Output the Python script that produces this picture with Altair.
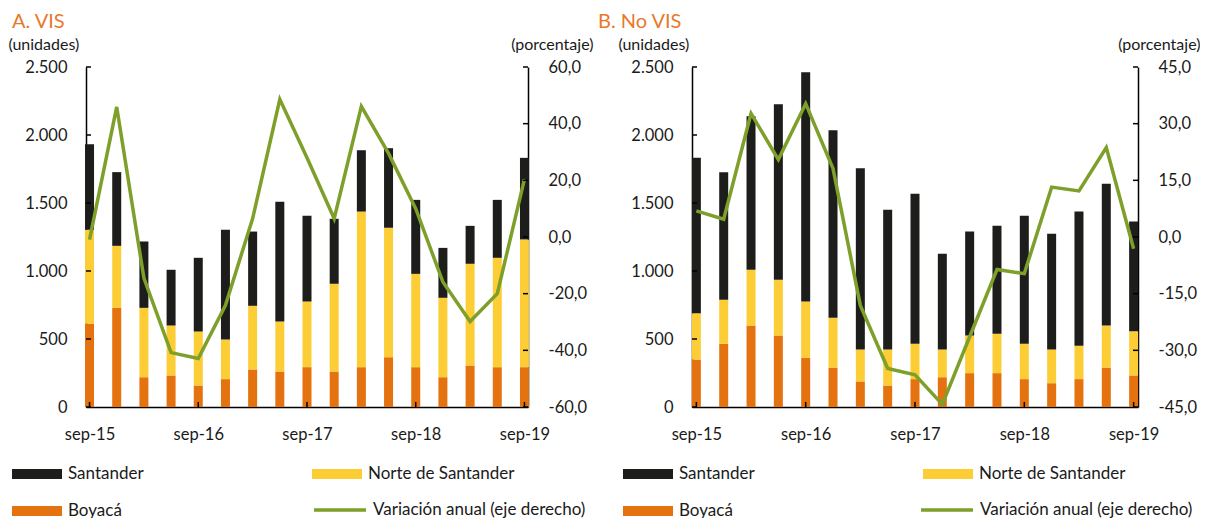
import altair as alt
import pandas as pd

quarters = ["sep-15", "dic-15", "mar-16", "jun-16", "sep-16", "dic-16", "mar-17", "jun-17",
            "sep-17", "dic-17", "mar-18", "jun-18", "sep-18", "dic-18", "mar-19", "jun-19", "sep-19"]
x_labels = ["sep-15", "sep-16", "sep-17", "sep-18", "sep-19"]

vis_boyaca = [612, 729, 219, 232, 158, 205, 276, 261, 293, 261, 293, 366, 293, 219, 305, 293, 293]
vis_norte = [691, 456, 510, 367, 397, 291, 468, 368, 483, 645, 1144, 952, 686, 584, 748, 804, 939]
vis_santander = [629, 542, 488, 410, 542, 807, 546, 880, 630, 478, 451, 585, 544, 367, 279, 426, 600]
vis_var = [-0.9, 45.9, -14.5, -40.8, -42.9, -24.1, 6.5, 48.6, 28.0, 6.5, 46.1, 29.5, 10.0, -15.9, -29.8, -20.0, 20.4]

novis_boyaca = [349, 465, 599, 526, 362, 290, 188, 158, 205, 219, 249, 249, 205, 175, 205, 290, 232]
novis_norte = [341, 323, 410, 409, 414, 366, 235, 265, 260, 204, 277, 289, 260, 248, 245, 309, 325]
novis_santander = [1142, 939, 1129, 1292, 1686, 1379, 1333, 1027, 1103, 704, 764, 794, 941, 851, 987, 1042, 807]
novis_var = [6.9, 4.7, 32.7, 20.5, 35.3, 18.1, -18.1, -34.8, -36.5, -44.3, -26.4, -8.6, -9.7, 13.2, 12.2, 23.7, -3.1]

left_ticks = [0, 500, 1000, 1500, 2000, 2500]
vis_right_ticks = [-60, -40, -20, 0, 20, 40, 60]
novis_right_ticks = [-45, -30, -15, 0, 15, 30, 45]

series = ["Santander", "Norte de Santander", "Boyacá"]
series_colors = ["#1D1D1B", "#FDCD36", "#E4720F"]
line_name = "Variación anual (eje derecho)"
line_color = "#7E9F2A"
title_color = "#E8792B"
FONT = "Lato"
TXT = "#1a1a1a"
H = 340
AX_FS = 16.5
AX_TITLE_FS = 16
LEG_FS = 17


def panel(title, boy, nor, san, var, rticks, width, pad, title_dx, ytitle_x, rtitle_x, leg_x, line_dx):
    rows = []
    for i, q in enumerate(quarters):
        rows.append({"q": q, "serie": "Boyacá", "v": boy[i], "o": 0})
        rows.append({"q": q, "serie": "Norte de Santander", "v": nor[i], "o": 1})
        rows.append({"q": q, "serie": "Santander", "v": san[i], "o": 2})
    bars_df = pd.DataFrame(rows)
    line_df = pd.DataFrame({"q": quarters, "var": var, "serie": [line_name] * len(quarters)})

    xscale = alt.Scale(type="point", domain=quarters, padding=pad)
    lscale = alt.Scale(domain=[0, 2500], nice=False, zero=False)
    rscale = alt.Scale(domain=[rticks[0], rticks[-1]], nice=False, zero=False)

    xaxis = alt.Axis(values=x_labels, ticks=False, labelPadding=19, domainColor="black",
                     domainWidth=1.5, labelFontSize=AX_FS, labelFont=FONT, labelColor=TXT,
                     title=None, grid=False, labelAngle=0)
    laxis = alt.Axis(values=left_ticks, ticks=False, labelPadding=19, domainColor="black",
                     domainWidth=1.5, labelFontSize=AX_FS, labelFont=FONT, labelColor=TXT,
                     labelExpr="replace(format(datum.value, ','), ',', '.')", grid=False,
                     title="(unidades)", titleAngle=0, titleAlign="left", titleBaseline="alphabetic",
                     titleX=ytitle_x, titleY=-18, titleFontSize=AX_TITLE_FS, titleFont=FONT,
                     titleFontWeight="normal", titleColor=TXT)
    raxis = alt.Axis(orient="right", values=rticks, ticks=False, labelPadding=20,
                     domainColor="black", domainWidth=1.5, labelFontSize=AX_FS, labelFont=FONT,
                     labelColor=TXT, grid=False,
                     labelExpr="(datum.value < 0 ? '-' : '') + replace(format(abs(datum.value), '.1f'), '.', ',')",
                     title="(porcentaje)", titleAngle=0, titleAlign="right", titleBaseline="alphabetic",
                     titleX=rtitle_x, titleY=-18, titleFontSize=AX_TITLE_FS, titleFont=FONT,
                     titleFontWeight="normal", titleColor=TXT)

    bars = alt.Chart(bars_df).mark_bar(size=9).encode(
        x=alt.X("q:N", scale=xscale, axis=xaxis, sort=quarters),
        y=alt.Y("v:Q", stack="zero", scale=lscale, axis=laxis),
        color=alt.Color("serie:N", scale=alt.Scale(domain=series, range=series_colors),
                        legend=alt.Legend(orient="none", legendX=leg_x, legendY=382, columns=2,
                                          direction="horizontal",
                                          columnPadding=168, rowPadding=4, title=None,
                                          symbolType="M-1,-0.2H1V0.2H-1Z", symbolSize=2500,
                                          symbolStrokeWidth=0, symbolOpacity=1,
                                          labelFontSize=LEG_FS, labelFont=FONT, labelColor=TXT,
                                          labelOffset=6, labelLimit=400)),
        order=alt.Order("o:Q"),
    )
    lt = alt.Chart(pd.DataFrame({"t": left_ticks})).mark_rule(color="black", strokeWidth=1.5).encode(
        y=alt.Y("t:Q", scale=lscale, axis=laxis), x=alt.value(0), x2=alt.value(5))
    xt = alt.Chart(pd.DataFrame({"q": x_labels})).mark_rule(color="black", strokeWidth=1.5).encode(
        x=alt.X("q:N", scale=xscale, axis=xaxis, sort=quarters), y=alt.value(H), y2=alt.value(H - 5))
    left = alt.layer(bars, lt, xt)

    line = alt.Chart(line_df).mark_line(strokeWidth=3.5).encode(
        x=alt.X("q:N", scale=xscale, axis=xaxis, sort=quarters),
        y=alt.Y("var:Q", scale=rscale, axis=raxis),
        stroke=alt.Stroke("serie:N", scale=alt.Scale(domain=[line_name], range=[line_color]),
                          legend=alt.Legend(orient="none", legendX=leg_x + line_dx, legendY=415,
                                            title=None, symbolType="stroke", symbolSize=2704,
                                            symbolStrokeWidth=3.5, labelFontSize=LEG_FS,
                                            labelFont=FONT, labelColor=TXT, labelOffset=5,
                                            labelLimit=400)),
    )
    rt = alt.Chart(pd.DataFrame({"t": rticks})).mark_rule(color="black", strokeWidth=1.5).encode(
        y=alt.Y("t:Q", scale=rscale, axis=raxis), x=alt.value(width - 5), x2=alt.value(width))
    right = alt.layer(line, rt)

    return alt.layer(left, right).resolve_scale(y="independent").properties(
        width=width, height=H,
        title=alt.TitleParams(title, anchor="start", frame="group", dx=title_dx, dy=20,
                              color=title_color, fontSize=20, font=FONT, fontWeight="normal",
                              offset=8, baseline="alphabetic"),
    )


pa = panel("A. VIS", vis_boyaca, vis_norte, vis_santander, vis_var, vis_right_ticks,
           442, 0.13, -74, -78, 65, -74, 300)
pb = panel("B. No VIS", novis_boyaca, novis_norte, novis_santander, novis_var, novis_right_ticks,
           446, 0.16, -94, -74, 62, -69, 296)

chart = alt.hconcat(pa, pb, spacing=164, bounds="flush").resolve_scale(
    color="independent", stroke="independent", x="independent", y="independent"
).resolve_legend(color="independent", stroke="independent").properties(
    padding={"top": 4, "left": 0, "right": 0, "bottom": 0}
).configure_view(stroke=None)

chart.save("out.html", embed_options={"renderer": "svg", "actions": False})
